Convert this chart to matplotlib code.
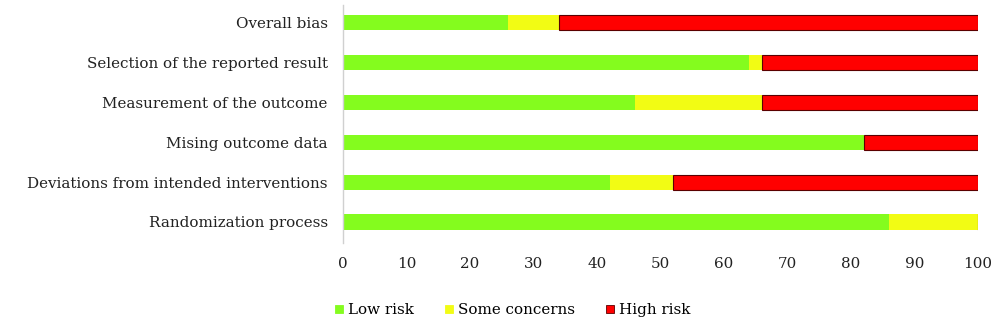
import matplotlib
matplotlib.use("Agg")
import matplotlib.pyplot as plt
import numpy as np
from matplotlib.lines import Line2D

categories = ["Randomization process",
              "Deviations from intended interventions",
              "Mising outcome data",
              "Measurement of the outcome",
              "Selection of the reported result",
              "Overall bias"]
low_risk = [86, 42, 82, 46, 64, 26]
some_concerns = [14, 10, 0, 20, 2, 8]
high_risk = [0, 48, 18, 34, 34, 66]
xticks = [0, 10, 20, 30, 40, 50, 60, 70, 80, 90, 100]
legend_labels = ["Low risk", "Some concerns", "High risk"]

green = "#84FC1E"
yellow = "#F2FC14"
red = "#FF0000"

plt.rcParams['font.family'] = ['DejaVu Serif', 'Liberation Serif']
fs = 10.9

fig = plt.figure(figsize=(10, 3.33), dpi=100)
ax = fig.add_axes([0.343, 0.27, 0.635, 0.715])

y = np.arange(len(categories))
h = 0.38
low = np.array(low_risk)
some = np.array(some_concerns)
high = np.array(high_risk)
ax.barh(y, low, height=h, color=green, edgecolor="none")
ax.barh(y, some, left=low, height=h, color=yellow, edgecolor="none")
ax.barh(y, high, left=low + some, height=h, color=red, edgecolor="#5a0000", linewidth=0.8)

ax.set_xlim(0, 100)
ax.set_ylim(-0.53, 5.45)
ax.set_yticks(y)
ax.set_yticklabels(categories, fontsize=fs, color="#222222")
ax.set_xticks(xticks)
ax.set_xticklabels([str(t) for t in xticks], fontsize=fs, color="#222222")
ax.tick_params(axis="both", length=0)
ax.tick_params(axis="y", pad=11)
ax.tick_params(axis="x", pad=10)
for s in ["top", "right", "bottom"]:
    ax.spines[s].set_visible(False)
ax.spines["left"].set_color("#d0d0d0")
ax.spines["left"].set_linewidth(1.0)

handles = [Line2D([], [], marker="s", linestyle="none", markersize=6, markerfacecolor=c,
                  markeredgecolor=e, markeredgewidth=0.6)
           for c, e in [(green, green), (yellow, yellow), (red, "#5a0000")]]
fig.legend(handles, legend_labels, loc="center left", bbox_to_anchor=(0.318, 0.069),
           ncol=3, frameon=False, fontsize=fs, handletextpad=0.1, columnspacing=1.8,
           handlelength=1.0)

fig.savefig("out.png", dpi=100, facecolor="white")
